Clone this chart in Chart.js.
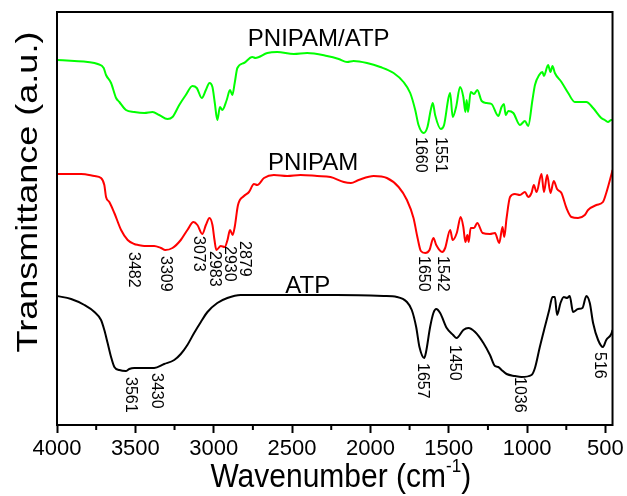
<!DOCTYPE html>
<html>
<head>
<meta charset="utf-8">
<script src="https://cdn.jsdelivr.net/npm/chart.js@4.4.1/dist/chart.umd.min.js"></script>
<style>
  html, body { margin: 0; padding: 0; background: #fff; }
</style>
</head>
<body>
<canvas id="ftir" width="627" height="496"></canvas>
<script>
// FTIR spectra (transmittance, a.u.), curves stacked one above the other
const xTicks = [4000, 3500, 3000, 2500, 2000, 1500, 1000, 500];
const xMinorTicks = [3750, 3250, 2750, 2250, 1750, 1250, 750];

// PNIPAM/ATP
const compositeWn = [4000, 3889, 3804, 3740, 3702, 3687, 3655, 3623, 3602, 3560, 3507, 3443, 3390, 3348, 3295, 3263, 3220, 3178, 3136, 3108,
  3076, 3050, 3027, 3008, 2993, 2977, 2960, 2945, 2917, 2896, 2881, 2866, 2849, 2807, 2754, 2733, 2658, 2595, 2489, 2404,
  2277, 2202, 2149, 2107, 2022, 1937, 1852, 1789, 1746, 1714, 1693, 1660, 1636, 1615, 1602, 1587, 1551, 1530, 1502, 1491,
  1475, 1453, 1428, 1407, 1394, 1386, 1377, 1360, 1339, 1318, 1290, 1258, 1227, 1184, 1163, 1148, 1137, 1120, 1088, 1046,
  1014, 993, 966, 950, 923, 902, 893, 866, 851, 838, 823, 781, 738, 696, 622, 579, 527, 505, 484, 463, 455];
const compositeT = [36.8, 36.7, 36.6, 36.4, 36.0, 35.3, 34.5, 33.0, 32.6, 31.8, 31.6, 31.5, 31.6, 31.3, 30.9, 31.1, 32.3, 33.3, 34.2, 34.0,
  33.0, 33.8, 34.5, 34.1, 32.5, 30.8, 32.1, 31.8, 32.8, 33.8, 33.3, 34.5, 36.0, 36.5, 37.1, 37.0, 37.5, 37.6, 37.4, 37.5,
  37.2, 36.9, 36.6, 36.7, 36.5, 36.1, 35.5, 34.6, 33.5, 31.8, 30.3, 29.5, 30.1, 31.8, 32.5, 31.3, 29.9, 30.3, 33.0, 33.5,
  31.1, 32.1, 34.1, 33.1, 31.6, 32.8, 31.6, 33.6, 33.4, 33.8, 32.7, 32.5, 32.4, 31.2, 32.1, 32.4, 31.3, 31.7, 31.5, 30.3,
  30.7, 30.2, 32.8, 34.3, 35.3, 35.6, 35.2, 36.3, 35.6, 36.2, 35.5, 34.6, 33.5, 32.6, 32.6, 32.0, 31.0, 30.8, 30.6, 30.8, 30.8];
const compositePeaks = [1660, 1551];

// PNIPAM
const pnipamWn = [4000, 3846, 3761, 3719, 3698, 3687, 3666, 3634, 3591, 3549, 3507, 3482, 3443, 3380, 3337, 3309, 3263, 3210, 3168, 3129,
  3104, 3073, 3050, 3027, 3008, 2995, 2983, 2955, 2930, 2912, 2896, 2879, 2866, 2845, 2807, 2775, 2743, 2722, 2679, 2616,
  2531, 2446, 2340, 2255, 2170, 2124, 2075, 1979, 1895, 1820, 1767, 1725, 1699, 1678, 1650, 1623, 1598, 1580, 1542, 1523,
  1491, 1475, 1449, 1424, 1407, 1394, 1381, 1373, 1360, 1339, 1318, 1284, 1237, 1205, 1178, 1157, 1146, 1131, 1109, 1078,
  1046, 1014, 993, 972, 957, 940, 908, 893, 872, 851, 830, 809, 781, 749, 717, 675, 632, 611, 558, 516, 495, 463, 455];
const pnipamT = [25.4, 25.4, 25.2, 25.0, 24.3, 23.1, 22.6, 21.5, 19.8, 18.8, 18.4, 18.3, 18.2, 18.2, 18.0, 17.8, 18.0, 18.8, 19.8, 20.6,
  20.3, 19.4, 20.3, 21.0, 20.3, 18.8, 17.8, 18.2, 18.1, 18.8, 19.8, 19.3, 20.1, 22.3, 23.2, 23.6, 24.4, 24.3, 25.0, 25.3,
  25.2, 25.3, 25.2, 25.1, 24.6, 24.5, 24.8, 25.2, 25.0, 24.1, 22.8, 21.0, 19.0, 17.7, 17.5, 17.8, 19.0, 18.3, 17.6, 18.0,
  19.8, 18.8, 19.5, 21.1, 20.1, 18.6, 19.3, 18.6, 20.0, 20.0, 20.5, 19.5, 19.4, 19.5, 18.5, 20.1, 19.1, 21.0, 23.1, 23.4,
  23.3, 23.6, 23.1, 23.5, 24.3, 23.6, 25.4, 23.6, 25.3, 23.5, 24.7, 23.9, 23.5, 22.0, 21.1, 21.0, 21.3, 21.8, 22.3, 22.6, 23.5, 25.3, 25.8];
const pnipamPeaks = [3482, 3309, 3073, 2983, 2930, 2879, 1650, 1542];

// ATP
const atpWn = [4000, 3910, 3825, 3761, 3719, 3698, 3677, 3655, 3634, 3602, 3561, 3539, 3507, 3430, 3380, 3316, 3252, 3210, 3168, 3125,
  3082, 3040, 2977, 2913, 2828, 2637, 2213, 1916, 1831, 1767, 1736, 1708, 1687, 1657, 1645, 1619, 1598, 1580, 1555, 1513,
  1472, 1450, 1407, 1375, 1332, 1279, 1237, 1205, 1184, 1163, 1131, 1078, 1036, 972, 950, 919, 887, 859, 838, 823,
  809, 787, 766, 745, 728, 707, 675, 647, 622, 600, 579, 547, 516, 495, 463, 455];
const atpT = [13.2, 12.9, 12.3, 11.6, 10.8, 9.8, 8.5, 7.1, 6.1, 5.8, 5.7, 5.9, 6.0, 6.0, 6.0, 6.4, 6.8, 7.4, 8.3, 9.5,
  10.6, 11.6, 12.5, 13.0, 13.3, 13.3, 13.3, 13.2, 13.1, 12.6, 11.8, 10.1, 8.1, 7.0, 7.6, 10.1, 11.5, 11.9, 11.5, 10.0,
  9.3, 9.0, 9.8, 10.0, 9.6, 8.5, 7.3, 6.2, 6.1, 5.8, 5.4, 5.2, 5.1, 5.3, 6.0, 8.1, 10.1, 11.8, 13.1, 13.1,
  11.3, 12.5, 13.1, 13.0, 13.2, 11.6, 11.9, 12.0, 13.2, 12.5, 10.5, 8.8, 8.1, 8.8, 9.4, 9.8];
const atpPeaks = [3561, 3430, 1657, 1450, 1036, 516];

const FONT = '"Liberation Sans", Arial, sans-serif';
Chart.defaults.font.family = FONT;

function toPoints(wn, t) {
  return wn.map((w, i) => ({ x: w, y: t[i] }));
}

// nearest sampled transmittance to a given wavenumber
function valueAt(wn, t, w) {
  let best = 0;
  wn.forEach((v, i) => { if (Math.abs(v - w) < Math.abs(wn[best] - w)) best = i; });
  return t[best];
}

const spectra = [
  { name: 'PNIPAM/ATP', wn: compositeWn, t: compositeT, peaks: compositePeaks, color: '#00ff00', tag: [2330, 38.2] },
  { name: 'PNIPAM', wn: pnipamWn, t: pnipamT, peaks: pnipamPeaks, color: '#ff0000', tag: [2365, 25.8] },
  { name: 'ATP', wn: atpWn, t: atpT, peaks: atpPeaks, color: '#000000', tag: [2400, 13.5] }
];

// small pixel nudges for crowded peak labels [dx, dy]
const nudge = {
  1660: [-3, -1], 1551: [0, 3],
  3482: [-5, 2], 3309: [0, 1], 3073: [-4, -3], 2983: [-2, -4], 2930: [5, -6], 2879: [12, 1], 1650: [-2, -2], 1542: [0, -1],
  3561: [5, 1], 3430: [10, 0], 1657: [-2, 0], 1450: [-2, 2], 1036: [-2, -5], 516: [-4, 0]
};

const annotate = {
  id: 'annotate',
  afterDraw(chart) {
    const { ctx, chartArea: a, scales: { x, y } } = chart;
    ctx.save();
    ctx.strokeStyle = '#000';
    ctx.fillStyle = '#000';
    ctx.lineWidth = 2;
    ctx.strokeRect(a.left, a.top, a.right - a.left, a.bottom - a.top);

    // minor ticks between the labelled ones
    ctx.beginPath();
    xMinorTicks.forEach(v => {
      const px = x.getPixelForValue(v);
      ctx.moveTo(px, a.bottom);
      ctx.lineTo(px, a.bottom + 5);
    });
    ctx.stroke();

    // curve names
    ctx.font = '24px ' + FONT;
    ctx.textAlign = 'center';
    ctx.textBaseline = 'alphabetic';
    spectra.forEach(s => {
      ctx.fillText(s.name, x.getPixelForValue(s.tag[0]), y.getPixelForValue(s.tag[1]));
    });

    // peak positions, written downwards under each band
    ctx.font = '16px ' + FONT;
    ctx.textAlign = 'left';
    ctx.textBaseline = 'middle';
    spectra.forEach(s => {
      s.peaks.forEach(p => {
        const d = nudge[p] || [0, 0];
        const px = x.getPixelForValue(p) + d[0];
        const py = y.getPixelForValue(valueAt(s.wn, s.t, p)) + 5 + d[1];
        ctx.save();
        ctx.translate(px, py);
        ctx.rotate(Math.PI / 2);
        ctx.fillText(String(p), 0, 0);
        ctx.restore();
      });
    });

    // x title with superscript
    ctx.textBaseline = 'alphabetic';
    ctx.textAlign = 'left';
    ctx.font = '30px ' + FONT;
    const main = 'Wavenumber (cm';
    const sup = '-1';
    const wMain = ctx.measureText(main).width;
    const wEnd = ctx.measureText(')').width;
    ctx.font = '17px ' + FONT;
    const wSup = ctx.measureText(sup).width;
    const total = wMain + wSup + wEnd;
    ctx.save();
    ctx.translate((a.left + a.right) / 2 + 6 - total / 2, 487);
    ctx.scale(1, 1.1);
    let tx = 0;
    ctx.font = '30px ' + FONT;
    ctx.fillText(main, tx, 0);
    tx += wMain;
    ctx.font = '17px ' + FONT;
    ctx.fillText(sup, tx, -14);
    tx += wSup;
    ctx.font = '30px ' + FONT;
    ctx.fillText(')', tx, 0);
    ctx.restore();

    // y title
    ctx.save();
    ctx.translate(37, 192);
    ctx.rotate(-Math.PI / 2);
    ctx.scale(1.2, 1);
    ctx.textAlign = 'center';
    ctx.font = '30px ' + FONT;
    ctx.fillText('Transmittance (a.u.)', 0, 0);
    ctx.restore();

    ctx.restore();
  }
};

new Chart(document.getElementById('ftir'), {
  type: 'line',
  data: {
    datasets: spectra.map(s => ({
      label: s.name,
      data: toPoints(s.wn, s.t),
      borderColor: s.color,
      backgroundColor: s.color,
      borderWidth: 2,
      pointRadius: 0,
      fill: false,
      cubicInterpolationMode: 'monotone'
    }))
  },
  options: {
    responsive: false,
    animation: false,
    layout: { padding: { left: 0, top: 12, right: 14, bottom: 0 } },
    plugins: { legend: { display: false }, tooltip: { enabled: false } },
    scales: {
      x: {
        type: 'linear',
        reverse: true,
        min: 455,
        max: 4000,
        afterBuildTicks: s => { s.ticks = xTicks.map(v => ({ value: v })); },
        afterFit: s => { s.height = 71; },
        ticks: {
          autoSkip: false,
          maxRotation: 0,
          color: '#000',
          padding: 3,
          font: { size: 22 },
          callback: v => String(v)
        },
        grid: { drawOnChartArea: false, tickLength: 8, tickWidth: 2, color: '#000' },
        border: { display: false }
      },
      y: {
        min: 0.3,
        max: 41.6,
        afterFit: s => { s.width = 57; },
        ticks: { display: false },
        grid: { display: false },
        border: { display: false }
      }
    }
  },
  plugins: [annotate]
});
</script>
</body>
</html>
